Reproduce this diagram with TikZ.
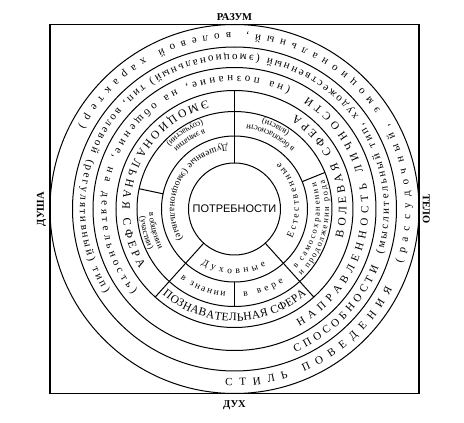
\documentclass[tikz,border=0pt]{standalone}
\usepackage{fontspec}
\setmainfont{Liberation Serif}
\newfontfamily\fuentesans{Liberation Sans}
\usetikzlibrary{positioning, decorations.text}
\newcommand{\fanillo}{\fontsize{11}{13}\selectfont}
\newcommand{\fesfera}{\fontsize{11.5}{13}\selectfont}
\newcommand{\fnecesidad}{\fontsize{9.5}{11}\selectfont}
\newcommand{\fsector}{\fontsize{8.5}{10}\selectfont}

\begin{document}
\begin{tikzpicture}[
  x=1pt, y=1pt,
  linea/.style={draw=black, line width=1pt},
  polo/.style={font=\bfseries\fontsize{10.5}{12}\selectfont, inner sep=0pt},
  arco/.style={decorate, decoration={text along path, text align=fit to path, text={#1}}},
  arcoc/.style={decorate, decoration={text along path, text align=center, text={#1}}}
]

\path[fill=white, use as bounding box] (-234.5,-214) rectangle (229.5,209);

\node[draw, line width=1.3pt, minimum size=369pt, inner sep=0pt] (marco) at (0,0) {};
\node[circle, linea, minimum size=92pt, inner sep=0pt, font=\fuentesans\fontsize{11}{13}\selectfont] (potr) at (0,0) {ПОТРЕБНОСТИ};

\draw[linea] (potr.center) circle[radius=73] circle[radius=97.5] circle[radius=118.5]
  circle[radius=141.5] circle[radius=162] circle[radius=184.5];

\draw[linea] (90:46) -- (90:118.5);
\draw[linea] (-132:46) -- (-132:118.5);
\draw[linea] (-48:46) -- (-48:118.5);
\draw[linea] (168:73) -- (168:97.5);
\draw[linea] (22:73) -- (22:97.5);
\draw[linea] (-90:73) -- (-90:97.5);

\node[polo, above=3pt of marco] (razum) {РАЗУМ};
\node[polo, below=6pt of marco] (duj) {ДУХ};
\node[polo, rotate=90, left=3pt of marco, anchor=south] (dusha) {ДУША};
\node[polo, rotate=-90, right=3pt of marco, anchor=south] (telo) {ТЕЛО};

\path[arco={|\fanillo|СТИЛЬ ПОВЕДЕНИЯ}] (-93:177) arc[start angle=-93, end angle=-27, radius=177];
\path[arco={|\fanillo|(рассудочный, эмоциональный, волевой характер)}] (-18:176) arc[start angle=-18, end angle=152, radius=176];

\path[arco={|\fanillo|СПОСОБНОСТИ}] (-67:155.5) arc[start angle=-67, end angle=-22, radius=155.5];
\path[arco={|\fanillo|(мыслительный тип, художественный (эмоциональный) тип, волевой (регулятивный) тип)}] (-17:154.5) arc[start angle=-17, end angle=213, radius=154.5];

\path[arco={|\fanillo|НАПРАВЛЕННОСТЬ ЛИЧНОСТИ}] (-61:134) arc[start angle=-61, end angle=57, radius=134];
\path[arco={|\fanillo|(на познание, на общение, на деятельность)}] (65:133) arc[start angle=65, end angle=220, radius=133];

\path[arco={|\fesfera|ЭМОЦИОНАЛЬНАЯ СФЕРА}] (104:112) arc[start angle=104, end angle=212, radius=112];
\path[arco={|\fesfera|ВОЛЕВАЯ СФЕРА}] (-15:112) arc[start angle=-15, end angle=57, radius=112];
\path[arco={|\fesfera|ПОЗНАВАТЕЛЬНАЯ СФЕРА}] (-130:112) arc[start angle=-130, end angle=-50, radius=112];

\path[arcoc={|\fsector|в эмпатии}] (98:85.5) arc[start angle=98, end angle=148, radius=85.5];
\path[arcoc={|\fsector|(соучастии)}] (98:94.5) arc[start angle=98, end angle=148, radius=94.5];
\path[arcoc={|\fsector|в общении}] (170:85.5) arc[start angle=170, end angle=220, radius=85.5];
\path[arcoc={|\fsector|(участии)}] (170:94.5) arc[start angle=170, end angle=220, radius=94.5];
\path[arcoc={|\fsector|в безопасности}] (38:85.5) arc[start angle=38, end angle=89, radius=85.5];
\path[arcoc={|\fsector|(власти)}] (38:94.5) arc[start angle=38, end angle=89, radius=94.5];
\path[arco={|\fsector|в самосохранении}] (-44:85.5) arc[start angle=-44, end angle=18, radius=85.5];
\path[arco={|\fsector|и продолжении рода}] (-45:94.5) arc[start angle=-45, end angle=18, radius=94.5];
\path[arco={|\fnecesidad|в знании}] (-128:88) arc[start angle=-128, end angle=-96, radius=88];
\path[arco={|\fnecesidad|в вере}] (-84:88) arc[start angle=-84, end angle=-56, radius=88];

\path[arco={|\fnecesidad|Духовные}] (-121:64.5) arc[start angle=-121, end angle=-61, radius=64.5];
\path[arco={|\fnecesidad|Естественные}] (-27:64.5) arc[start angle=-27, end angle=46, radius=64.5];
\path[arco={|\fnecesidad|Душевные (эмоциональные)}] (96:64.5) arc[start angle=96, end angle=210, radius=64.5];

\end{tikzpicture}
\end{document}
